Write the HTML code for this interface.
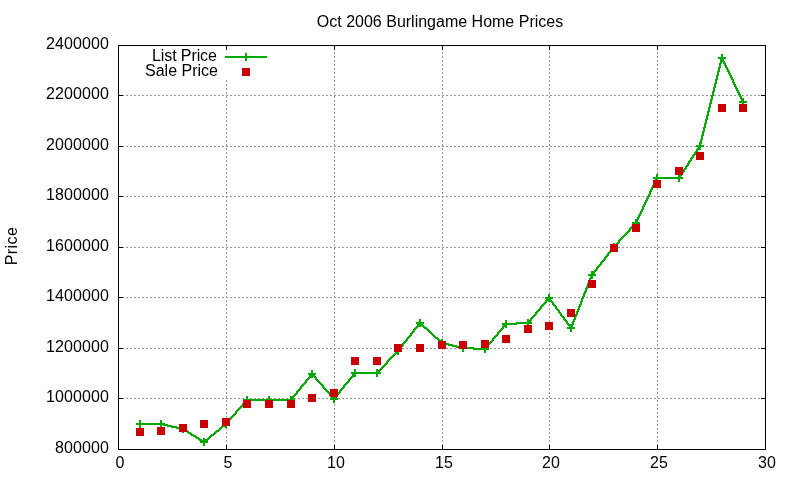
<!DOCTYPE html><html><head><meta charset="utf-8"><title>Oct 2006 Burlingame Home Prices</title><style>
html,body{margin:0;padding:0;background:#fff;}
#c{position:relative;width:800px;height:480px;overflow:hidden;background:#fff;font-family:"Liberation Sans",sans-serif;font-size:16px;color:#000;}
.t{position:absolute;white-space:nowrap;line-height:1;will-change:transform;}
.yl{right:691px;text-align:right;letter-spacing:0.1px;}
.xl{width:60px;text-align:center;top:455px;}
</style></head><body><div id="c">
<svg width="800" height="480" viewBox="0 0 800 480" style="position:absolute;left:0;top:0">
<g stroke="#969696" stroke-width="1" stroke-dasharray="2 2" shape-rendering="crispEdges">
<line x1="118" y1="398.5" x2="765" y2="398.5"/>
<line x1="118" y1="348.5" x2="765" y2="348.5"/>
<line x1="118" y1="297.5" x2="765" y2="297.5"/>
<line x1="118" y1="247.5" x2="765" y2="247.5"/>
<line x1="118" y1="196.5" x2="765" y2="196.5"/>
<line x1="118" y1="146.5" x2="765" y2="146.5"/>
<line x1="118" y1="95.5" x2="765" y2="95.5"/>
<line x1="226.5" y1="450" x2="226.5" y2="80"/>
<line x1="334.5" y1="450" x2="334.5" y2="45"/>
<line x1="442.5" y1="450" x2="442.5" y2="45"/>
<line x1="549.5" y1="450" x2="549.5" y2="45"/>
<line x1="657.5" y1="450" x2="657.5" y2="45"/>
</g>
<g fill="#000" shape-rendering="crispEdges">
<rect x="118" y="449" width="5" height="1"/>
<rect x="761" y="449" width="5" height="1"/>
<rect x="118" y="398" width="5" height="1"/>
<rect x="761" y="398" width="5" height="1"/>
<rect x="118" y="348" width="5" height="1"/>
<rect x="761" y="348" width="5" height="1"/>
<rect x="118" y="297" width="5" height="1"/>
<rect x="761" y="297" width="5" height="1"/>
<rect x="118" y="247" width="5" height="1"/>
<rect x="761" y="247" width="5" height="1"/>
<rect x="118" y="196" width="5" height="1"/>
<rect x="761" y="196" width="5" height="1"/>
<rect x="118" y="146" width="5" height="1"/>
<rect x="761" y="146" width="5" height="1"/>
<rect x="118" y="95" width="5" height="1"/>
<rect x="761" y="95" width="5" height="1"/>
<rect x="118" y="45" width="5" height="1"/>
<rect x="761" y="45" width="5" height="1"/>
<rect x="118" y="445" width="1" height="5"/>
<rect x="118" y="45" width="1" height="5"/>
<rect x="226" y="445" width="1" height="5"/>
<rect x="226" y="45" width="1" height="5"/>
<rect x="334" y="445" width="1" height="5"/>
<rect x="334" y="45" width="1" height="5"/>
<rect x="442" y="445" width="1" height="5"/>
<rect x="442" y="45" width="1" height="5"/>
<rect x="549" y="445" width="1" height="5"/>
<rect x="549" y="45" width="1" height="5"/>
<rect x="657" y="445" width="1" height="5"/>
<rect x="657" y="45" width="1" height="5"/>
<rect x="765" y="445" width="1" height="5"/>
<rect x="765" y="45" width="1" height="5"/>
<rect x="118" y="45" width="648" height="1"/>
<rect x="118" y="449" width="648" height="1"/>
<rect x="118" y="45" width="1" height="405"/>
<rect x="765" y="45" width="1" height="405"/>
</g>
<g shape-rendering="crispEdges">
<path d="M721 57h2v1h-2zM721 58h2v1h-2zM720 59h4v1h-4zM720 60h4v1h-4zM720 61h5v1h-5zM720 62h2v1h-2zM723 62h2v1h-2zM719 63h3v1h-3zM723 63h3v1h-3zM719 64h2v1h-2zM724 64h2v1h-2zM719 65h2v1h-2zM724 65h3v1h-3zM719 66h2v1h-2zM725 66h2v1h-2zM718 67h3v1h-3zM725 67h3v1h-3zM718 68h2v1h-2zM726 68h2v1h-2zM718 69h2v1h-2zM726 69h3v1h-3zM718 70h2v1h-2zM727 70h2v1h-2zM717 71h3v1h-3zM727 71h3v1h-3zM717 72h2v1h-2zM728 72h2v1h-2zM717 73h2v1h-2zM728 73h3v1h-3zM717 74h2v1h-2zM729 74h2v1h-2zM716 75h3v1h-3zM729 75h3v1h-3zM716 76h2v1h-2zM730 76h2v1h-2zM716 77h2v1h-2zM730 77h3v1h-3zM716 78h2v1h-2zM731 78h2v1h-2zM715 79h3v1h-3zM731 79h3v1h-3zM715 80h2v1h-2zM732 80h2v1h-2zM715 81h2v1h-2zM732 81h2v1h-2zM715 82h2v1h-2zM732 82h3v1h-3zM714 83h3v1h-3zM733 83h2v1h-2zM714 84h2v1h-2zM733 84h3v1h-3zM714 85h2v1h-2zM734 85h2v1h-2zM714 86h2v1h-2zM734 86h3v1h-3zM713 87h3v1h-3zM735 87h2v1h-2zM713 88h2v1h-2zM735 88h3v1h-3zM713 89h2v1h-2zM736 89h2v1h-2zM713 90h2v1h-2zM736 90h3v1h-3zM712 91h3v1h-3zM737 91h2v1h-2zM712 92h2v1h-2zM737 92h3v1h-3zM712 93h2v1h-2zM738 93h2v1h-2zM712 94h2v1h-2zM738 94h3v1h-3zM711 95h3v1h-3zM739 95h2v1h-2zM711 96h2v1h-2zM739 96h3v1h-3zM711 97h2v1h-2zM740 97h2v1h-2zM711 98h2v1h-2zM740 98h3v1h-3zM710 99h3v1h-3zM741 99h2v1h-2zM710 100h2v1h-2zM741 100h3v1h-3zM710 101h2v1h-2zM742 101h2v1h-2zM710 102h2v1h-2zM742 102h2v1h-2zM709 103h3v1h-3zM709 104h2v1h-2zM709 105h2v1h-2zM709 106h2v1h-2zM708 107h3v1h-3zM708 108h2v1h-2zM708 109h2v1h-2zM708 110h2v1h-2zM707 111h3v1h-3zM707 112h2v1h-2zM707 113h2v1h-2zM707 114h2v1h-2zM706 115h3v1h-3zM706 116h2v1h-2zM706 117h2v1h-2zM706 118h2v1h-2zM705 119h3v1h-3zM705 120h2v1h-2zM705 121h2v1h-2zM705 122h2v1h-2zM704 123h3v1h-3zM704 124h2v1h-2zM704 125h2v1h-2zM704 126h2v1h-2zM703 127h3v1h-3zM703 128h2v1h-2zM703 129h2v1h-2zM703 130h2v1h-2zM702 131h3v1h-3zM702 132h2v1h-2zM702 133h2v1h-2zM702 134h2v1h-2zM701 135h3v1h-3zM701 136h2v1h-2zM701 137h2v1h-2zM701 138h2v1h-2zM700 139h3v1h-3zM700 140h2v1h-2zM700 141h2v1h-2zM700 142h2v1h-2zM699 143h3v1h-3zM699 144h2v1h-2zM699 145h2v1h-2zM698 146h3v1h-3zM698 147h2v1h-2zM697 148h3v1h-3zM696 149h3v1h-3zM696 150h2v1h-2zM695 151h3v1h-3zM694 152h3v1h-3zM694 153h2v1h-2zM693 154h3v1h-3zM692 155h3v1h-3zM692 156h2v1h-2zM691 157h3v1h-3zM690 158h3v1h-3zM690 159h2v1h-2zM689 160h3v1h-3zM688 161h3v1h-3zM688 162h2v1h-2zM687 163h3v1h-3zM687 164h2v1h-2zM686 165h3v1h-3zM685 166h3v1h-3zM685 167h2v1h-2zM684 168h3v1h-3zM683 169h3v1h-3zM683 170h2v1h-2zM682 171h3v1h-3zM681 172h3v1h-3zM681 173h2v1h-2zM680 174h3v1h-3zM679 175h3v1h-3zM679 176h2v1h-2zM656 177h25v1h-25zM656 178h24v1h-24zM655 179h3v1h-3zM655 180h2v1h-2zM654 181h3v1h-3zM654 182h2v1h-2zM653 183h3v1h-3zM653 184h2v1h-2zM652 185h3v1h-3zM652 186h2v1h-2zM651 187h3v1h-3zM651 188h2v1h-2zM650 189h3v1h-3zM650 190h2v1h-2zM649 191h3v1h-3zM649 192h2v1h-2zM649 193h2v1h-2zM648 194h3v1h-3zM648 195h2v1h-2zM647 196h3v1h-3zM647 197h2v1h-2zM646 198h3v1h-3zM646 199h2v1h-2zM645 200h3v1h-3zM645 201h2v1h-2zM644 202h3v1h-3zM644 203h2v1h-2zM643 204h3v1h-3zM643 205h2v1h-2zM642 206h3v1h-3zM642 207h2v1h-2zM642 208h2v1h-2zM641 209h3v1h-3zM641 210h2v1h-2zM640 211h3v1h-3zM640 212h2v1h-2zM639 213h3v1h-3zM639 214h2v1h-2zM638 215h3v1h-3zM638 216h2v1h-2zM637 217h3v1h-3zM637 218h2v1h-2zM636 219h3v1h-3zM636 220h2v1h-2zM635 221h3v1h-3zM635 222h2v1h-2zM634 223h3v1h-3zM633 224h3v1h-3zM632 225h3v1h-3zM631 226h3v1h-3zM630 227h3v1h-3zM629 228h3v1h-3zM629 229h2v1h-2zM628 230h3v1h-3zM627 231h3v1h-3zM626 232h3v1h-3zM625 233h3v1h-3zM624 234h3v1h-3zM623 235h3v1h-3zM622 236h3v1h-3zM621 237h3v1h-3zM620 238h3v1h-3zM619 239h3v1h-3zM618 240h3v1h-3zM618 241h2v1h-2zM617 242h3v1h-3zM616 243h3v1h-3zM615 244h3v1h-3zM614 245h3v1h-3zM613 246h3v1h-3zM612 247h3v1h-3zM611 248h3v1h-3zM611 249h2v1h-2zM610 250h3v1h-3zM609 251h3v1h-3zM608 252h3v1h-3zM607 253h3v1h-3zM607 254h2v1h-2zM606 255h3v1h-3zM605 256h3v1h-3zM604 257h3v1h-3zM604 258h2v1h-2zM603 259h3v1h-3zM602 260h3v1h-3zM601 261h3v1h-3zM600 262h3v1h-3zM600 263h2v1h-2zM599 264h3v1h-3zM598 265h3v1h-3zM597 266h3v1h-3zM596 267h3v1h-3zM596 268h2v1h-2zM595 269h3v1h-3zM594 270h3v1h-3zM593 271h3v1h-3zM593 272h2v1h-2zM592 273h3v1h-3zM591 274h3v1h-3zM591 275h2v1h-2zM590 276h3v1h-3zM590 277h2v1h-2zM589 278h3v1h-3zM589 279h2v1h-2zM589 280h2v1h-2zM588 281h3v1h-3zM588 282h2v1h-2zM587 283h3v1h-3zM587 284h2v1h-2zM587 285h2v1h-2zM586 286h3v1h-3zM586 287h2v1h-2zM585 288h3v1h-3zM585 289h2v1h-2zM585 290h2v1h-2zM584 291h3v1h-3zM584 292h2v1h-2zM583 293h3v1h-3zM583 294h2v1h-2zM583 295h2v1h-2zM582 296h3v1h-3zM548 297h2v1h-2zM582 297h2v1h-2zM547 298h4v1h-4zM581 298h3v1h-3zM546 299h5v1h-5zM581 299h2v1h-2zM545 300h3v1h-3zM549 300h3v1h-3zM581 300h2v1h-2zM545 301h2v1h-2zM550 301h3v1h-3zM580 301h3v1h-3zM544 302h3v1h-3zM551 302h3v1h-3zM580 302h2v1h-2zM543 303h3v1h-3zM552 303h2v1h-2zM580 303h2v1h-2zM542 304h3v1h-3zM552 304h3v1h-3zM579 304h3v1h-3zM541 305h3v1h-3zM553 305h3v1h-3zM579 305h2v1h-2zM540 306h3v1h-3zM554 306h3v1h-3zM578 306h3v1h-3zM540 307h2v1h-2zM555 307h2v1h-2zM578 307h2v1h-2zM539 308h3v1h-3zM555 308h3v1h-3zM578 308h2v1h-2zM538 309h3v1h-3zM556 309h3v1h-3zM577 309h3v1h-3zM537 310h3v1h-3zM557 310h3v1h-3zM577 310h2v1h-2zM536 311h3v1h-3zM558 311h2v1h-2zM576 311h3v1h-3zM535 312h3v1h-3zM558 312h3v1h-3zM576 312h2v1h-2zM535 313h2v1h-2zM559 313h3v1h-3zM576 313h2v1h-2zM534 314h3v1h-3zM560 314h2v1h-2zM575 314h3v1h-3zM533 315h3v1h-3zM560 315h3v1h-3zM575 315h2v1h-2zM532 316h3v1h-3zM561 316h3v1h-3zM574 316h3v1h-3zM531 317h3v1h-3zM562 317h3v1h-3zM574 317h2v1h-2zM530 318h3v1h-3zM563 318h2v1h-2zM574 318h2v1h-2zM530 319h2v1h-2zM563 319h3v1h-3zM573 319h3v1h-3zM529 320h3v1h-3zM564 320h3v1h-3zM573 320h2v1h-2zM528 321h3v1h-3zM565 321h3v1h-3zM572 321h3v1h-3zM419 322h2v1h-2zM516 322h14v1h-14zM566 322h2v1h-2zM572 322h2v1h-2zM418 323h4v1h-4zM505 323h24v1h-24zM566 323h3v1h-3zM572 323h2v1h-2zM417 324h6v1h-6zM504 324h13v1h-13zM567 324h3v1h-3zM571 324h3v1h-3zM417 325h2v1h-2zM421 325h3v1h-3zM503 325h3v1h-3zM568 325h5v1h-5zM416 326h3v1h-3zM422 326h3v1h-3zM502 326h3v1h-3zM569 326h4v1h-4zM415 327h3v1h-3zM423 327h4v1h-4zM502 327h2v1h-2zM569 327h3v1h-3zM414 328h3v1h-3zM424 328h4v1h-4zM501 328h3v1h-3zM570 328h2v1h-2zM413 329h3v1h-3zM426 329h3v1h-3zM500 329h3v1h-3zM413 330h2v1h-2zM427 330h3v1h-3zM499 330h3v1h-3zM412 331h3v1h-3zM428 331h3v1h-3zM498 331h3v1h-3zM411 332h3v1h-3zM429 332h3v1h-3zM497 332h3v1h-3zM410 333h3v1h-3zM430 333h3v1h-3zM497 333h2v1h-2zM410 334h2v1h-2zM431 334h3v1h-3zM496 334h3v1h-3zM409 335h3v1h-3zM432 335h3v1h-3zM495 335h3v1h-3zM408 336h3v1h-3zM433 336h3v1h-3zM494 336h3v1h-3zM407 337h3v1h-3zM434 337h4v1h-4zM493 337h3v1h-3zM406 338h3v1h-3zM435 338h4v1h-4zM492 338h3v1h-3zM406 339h2v1h-2zM437 339h3v1h-3zM492 339h2v1h-2zM405 340h3v1h-3zM438 340h3v1h-3zM491 340h3v1h-3zM404 341h3v1h-3zM439 341h3v1h-3zM490 341h3v1h-3zM403 342h3v1h-3zM440 342h5v1h-5zM489 342h3v1h-3zM402 343h3v1h-3zM441 343h8v1h-8zM488 343h3v1h-3zM402 344h2v1h-2zM444 344h9v1h-9zM487 344h3v1h-3zM401 345h3v1h-3zM448 345h9v1h-9zM487 345h2v1h-2zM400 346h3v1h-3zM452 346h9v1h-9zM486 346h3v1h-3zM399 347h3v1h-3zM456 347h18v1h-18zM485 347h3v1h-3zM399 348h2v1h-2zM460 348h27v1h-27zM398 349h3v1h-3zM473 349h13v1h-13zM397 350h3v1h-3zM396 351h3v1h-3zM395 352h3v1h-3zM394 353h3v1h-3zM393 354h3v1h-3zM392 355h3v1h-3zM391 356h3v1h-3zM390 357h3v1h-3zM389 358h3v1h-3zM388 359h3v1h-3zM387 360h3v1h-3zM386 361h3v1h-3zM386 362h2v1h-2zM385 363h3v1h-3zM384 364h3v1h-3zM383 365h3v1h-3zM382 366h3v1h-3zM381 367h3v1h-3zM380 368h3v1h-3zM379 369h3v1h-3zM378 370h3v1h-3zM377 371h3v1h-3zM354 372h25v1h-25zM311 373h2v1h-2zM353 373h25v1h-25zM310 374h4v1h-4zM352 374h3v1h-3zM309 375h6v1h-6zM352 375h2v1h-2zM309 376h2v1h-2zM313 376h3v1h-3zM351 376h3v1h-3zM308 377h3v1h-3zM314 377h3v1h-3zM350 377h3v1h-3zM307 378h3v1h-3zM315 378h2v1h-2zM349 378h3v1h-3zM306 379h3v1h-3zM315 379h3v1h-3zM348 379h3v1h-3zM305 380h3v1h-3zM316 380h3v1h-3zM348 380h2v1h-2zM305 381h2v1h-2zM317 381h3v1h-3zM347 381h3v1h-3zM304 382h3v1h-3zM318 382h3v1h-3zM346 382h3v1h-3zM303 383h3v1h-3zM319 383h3v1h-3zM345 383h3v1h-3zM302 384h3v1h-3zM320 384h3v1h-3zM344 384h3v1h-3zM301 385h3v1h-3zM321 385h3v1h-3zM343 385h3v1h-3zM300 386h3v1h-3zM322 386h2v1h-2zM343 386h2v1h-2zM300 387h2v1h-2zM322 387h3v1h-3zM342 387h3v1h-3zM299 388h3v1h-3zM323 388h3v1h-3zM341 388h3v1h-3zM298 389h3v1h-3zM324 389h3v1h-3zM340 389h3v1h-3zM297 390h3v1h-3zM325 390h3v1h-3zM339 390h3v1h-3zM296 391h3v1h-3zM326 391h3v1h-3zM339 391h2v1h-2zM296 392h2v1h-2zM327 392h3v1h-3zM338 392h3v1h-3zM295 393h3v1h-3zM328 393h3v1h-3zM337 393h3v1h-3zM294 394h3v1h-3zM329 394h2v1h-2zM336 394h3v1h-3zM293 395h3v1h-3zM329 395h3v1h-3zM335 395h3v1h-3zM292 396h3v1h-3zM330 396h3v1h-3zM335 396h2v1h-2zM292 397h2v1h-2zM331 397h6v1h-6zM291 398h3v1h-3zM332 398h4v1h-4zM246 399h47v1h-47zM333 399h2v1h-2zM245 400h47v1h-47zM244 401h3v1h-3zM243 402h3v1h-3zM242 403h3v1h-3zM242 404h2v1h-2zM241 405h3v1h-3zM240 406h3v1h-3zM239 407h3v1h-3zM238 408h3v1h-3zM237 409h3v1h-3zM236 410h3v1h-3zM235 411h3v1h-3zM235 412h2v1h-2zM234 413h3v1h-3zM233 414h3v1h-3zM232 415h3v1h-3zM231 416h3v1h-3zM230 417h3v1h-3zM229 418h3v1h-3zM228 419h3v1h-3zM228 420h2v1h-2zM227 421h3v1h-3zM226 422h3v1h-3zM139 423h25v1h-25zM225 423h3v1h-3zM139 424h29v1h-29zM224 424h3v1h-3zM163 425h9v1h-9zM222 425h4v1h-4zM167 426h10v1h-10zM221 426h4v1h-4zM171 427h10v1h-10zM220 427h3v1h-3zM176 428h8v1h-8zM219 428h3v1h-3zM180 429h6v1h-6zM218 429h3v1h-3zM183 430h5v1h-5zM216 430h4v1h-4zM185 431h4v1h-4zM215 431h4v1h-4zM187 432h4v1h-4zM214 432h3v1h-3zM188 433h4v1h-4zM213 433h3v1h-3zM190 434h4v1h-4zM211 434h4v1h-4zM191 435h5v1h-5zM210 435h4v1h-4zM193 436h4v1h-4zM209 436h3v1h-3zM195 437h4v1h-4zM208 437h3v1h-3zM196 438h4v1h-4zM207 438h3v1h-3zM198 439h4v1h-4zM205 439h4v1h-4zM199 440h9v1h-9zM201 441h5v1h-5zM203 442h2v1h-2z" fill="#00a800"/>
<rect x="136" y="423" width="8" height="2" fill="#00a800"/><rect x="139" y="420" width="2" height="8" fill="#00a800"/>
<rect x="157" y="423" width="8" height="2" fill="#00a800"/><rect x="160" y="420" width="2" height="8" fill="#00a800"/>
<rect x="179" y="428" width="8" height="2" fill="#00a800"/><rect x="182" y="425" width="2" height="8" fill="#00a800"/>
<rect x="200" y="441" width="8" height="2" fill="#00a800"/><rect x="203" y="438" width="2" height="8" fill="#00a800"/>
<rect x="222" y="423" width="8" height="2" fill="#00a800"/><rect x="225" y="420" width="2" height="8" fill="#00a800"/>
<rect x="243" y="399" width="8" height="2" fill="#00a800"/><rect x="246" y="396" width="2" height="8" fill="#00a800"/>
<rect x="265" y="399" width="8" height="2" fill="#00a800"/><rect x="268" y="396" width="2" height="8" fill="#00a800"/>
<rect x="287" y="399" width="8" height="2" fill="#00a800"/><rect x="290" y="396" width="2" height="8" fill="#00a800"/>
<rect x="308" y="373" width="8" height="2" fill="#00a800"/><rect x="311" y="370" width="2" height="8" fill="#00a800"/>
<rect x="330" y="398" width="8" height="2" fill="#00a800"/><rect x="333" y="395" width="2" height="8" fill="#00a800"/>
<rect x="351" y="372" width="8" height="2" fill="#00a800"/><rect x="354" y="369" width="2" height="8" fill="#00a800"/>
<rect x="373" y="372" width="8" height="2" fill="#00a800"/><rect x="376" y="369" width="2" height="8" fill="#00a800"/>
<rect x="394" y="350" width="8" height="2" fill="#00a800"/><rect x="397" y="347" width="2" height="8" fill="#00a800"/>
<rect x="416" y="322" width="8" height="2" fill="#00a800"/><rect x="419" y="319" width="2" height="8" fill="#00a800"/>
<rect x="438" y="342" width="8" height="2" fill="#00a800"/><rect x="441" y="339" width="2" height="8" fill="#00a800"/>
<rect x="459" y="347" width="8" height="2" fill="#00a800"/><rect x="462" y="344" width="2" height="8" fill="#00a800"/>
<rect x="481" y="348" width="8" height="2" fill="#00a800"/><rect x="484" y="345" width="2" height="8" fill="#00a800"/>
<rect x="502" y="323" width="8" height="2" fill="#00a800"/><rect x="505" y="320" width="2" height="8" fill="#00a800"/>
<rect x="524" y="322" width="8" height="2" fill="#00a800"/><rect x="527" y="319" width="2" height="8" fill="#00a800"/>
<rect x="545" y="297" width="8" height="2" fill="#00a800"/><rect x="548" y="294" width="2" height="8" fill="#00a800"/>
<rect x="567" y="327" width="8" height="2" fill="#00a800"/><rect x="570" y="324" width="2" height="8" fill="#00a800"/>
<rect x="588" y="274" width="8" height="2" fill="#00a800"/><rect x="591" y="271" width="2" height="8" fill="#00a800"/>
<rect x="610" y="246" width="8" height="2" fill="#00a800"/><rect x="613" y="243" width="2" height="8" fill="#00a800"/>
<rect x="632" y="222" width="8" height="2" fill="#00a800"/><rect x="635" y="219" width="2" height="8" fill="#00a800"/>
<rect x="653" y="177" width="8" height="2" fill="#00a800"/><rect x="656" y="174" width="2" height="8" fill="#00a800"/>
<rect x="675" y="177" width="8" height="2" fill="#00a800"/><rect x="678" y="174" width="2" height="8" fill="#00a800"/>
<rect x="696" y="145" width="8" height="2" fill="#00a800"/><rect x="699" y="142" width="2" height="8" fill="#00a800"/>
<rect x="718" y="57" width="8" height="2" fill="#00a800"/><rect x="721" y="54" width="2" height="8" fill="#00a800"/>
<rect x="739" y="101" width="8" height="2" fill="#00a800"/><rect x="742" y="98" width="2" height="8" fill="#00a800"/>
<rect x="225" y="56" width="42" height="2" fill="#00a800"/>
<rect x="242" y="56" width="8" height="2" fill="#00a800"/><rect x="245" y="53" width="2" height="8" fill="#00a800"/>
<rect x="136" y="428" width="8" height="8" fill="#c80000"/>
<rect x="157" y="427" width="8" height="8" fill="#c80000"/>
<rect x="179" y="424" width="8" height="8" fill="#c80000"/>
<rect x="200" y="420" width="8" height="8" fill="#c80000"/>
<rect x="222" y="418" width="8" height="8" fill="#c80000"/>
<rect x="243" y="400" width="8" height="8" fill="#c80000"/>
<rect x="265" y="400" width="8" height="8" fill="#c80000"/>
<rect x="287" y="400" width="8" height="8" fill="#c80000"/>
<rect x="308" y="394" width="8" height="8" fill="#c80000"/>
<rect x="330" y="389" width="8" height="8" fill="#c80000"/>
<rect x="351" y="357" width="8" height="8" fill="#c80000"/>
<rect x="373" y="357" width="8" height="8" fill="#c80000"/>
<rect x="394" y="344" width="8" height="8" fill="#c80000"/>
<rect x="416" y="344" width="8" height="8" fill="#c80000"/>
<rect x="438" y="341" width="8" height="8" fill="#c80000"/>
<rect x="459" y="341" width="8" height="8" fill="#c80000"/>
<rect x="481" y="340" width="8" height="8" fill="#c80000"/>
<rect x="502" y="335" width="8" height="8" fill="#c80000"/>
<rect x="524" y="325" width="8" height="8" fill="#c80000"/>
<rect x="545" y="322" width="8" height="8" fill="#c80000"/>
<rect x="567" y="309" width="8" height="8" fill="#c80000"/>
<rect x="588" y="280" width="8" height="8" fill="#c80000"/>
<rect x="610" y="244" width="8" height="8" fill="#c80000"/>
<rect x="632" y="224" width="8" height="8" fill="#c80000"/>
<rect x="653" y="180" width="8" height="8" fill="#c80000"/>
<rect x="675" y="167" width="8" height="8" fill="#c80000"/>
<rect x="696" y="152" width="8" height="8" fill="#c80000"/>
<rect x="718" y="104" width="8" height="8" fill="#c80000"/>
<rect x="739" y="104" width="8" height="8" fill="#c80000"/>
<rect x="242" y="68" width="8" height="8" fill="#c80000"/>
</g>
</svg>
<div class="t" id="title" style="left:240px;width:400px;text-align:center;top:14px;">Oct 2006 Burlingame Home Prices</div>
<div class="t yl" style="top:440px;">800000</div>
<div class="t yl" style="top:389px;">1000000</div>
<div class="t yl" style="top:339px;">1200000</div>
<div class="t yl" style="top:288px;">1400000</div>
<div class="t yl" style="top:238px;">1600000</div>
<div class="t yl" style="top:187px;">1800000</div>
<div class="t yl" style="top:137px;">2000000</div>
<div class="t yl" style="top:86px;">2200000</div>
<div class="t yl" style="top:36px;">2400000</div>
<div class="t xl" style="left:90px;">0</div>
<div class="t xl" style="left:198px;">5</div>
<div class="t xl" style="left:306px;">10</div>
<div class="t xl" style="left:414px;">15</div>
<div class="t xl" style="left:521px;">20</div>
<div class="t xl" style="left:629px;">25</div>
<div class="t xl" style="left:737px;">30</div>
<div class="t" id="k1" style="right:583px;top:48px;letter-spacing:-0.1px;">List Price</div>
<div class="t" id="k2" style="right:582px;top:63px;">Sale Price</div>
<div class="t" id="ylab" style="left:-38px;top:238px;width:100px;text-align:center;letter-spacing:0.4px;transform:rotate(-90deg);transform-origin:50% 50%;">Price</div>
</div></body></html>
